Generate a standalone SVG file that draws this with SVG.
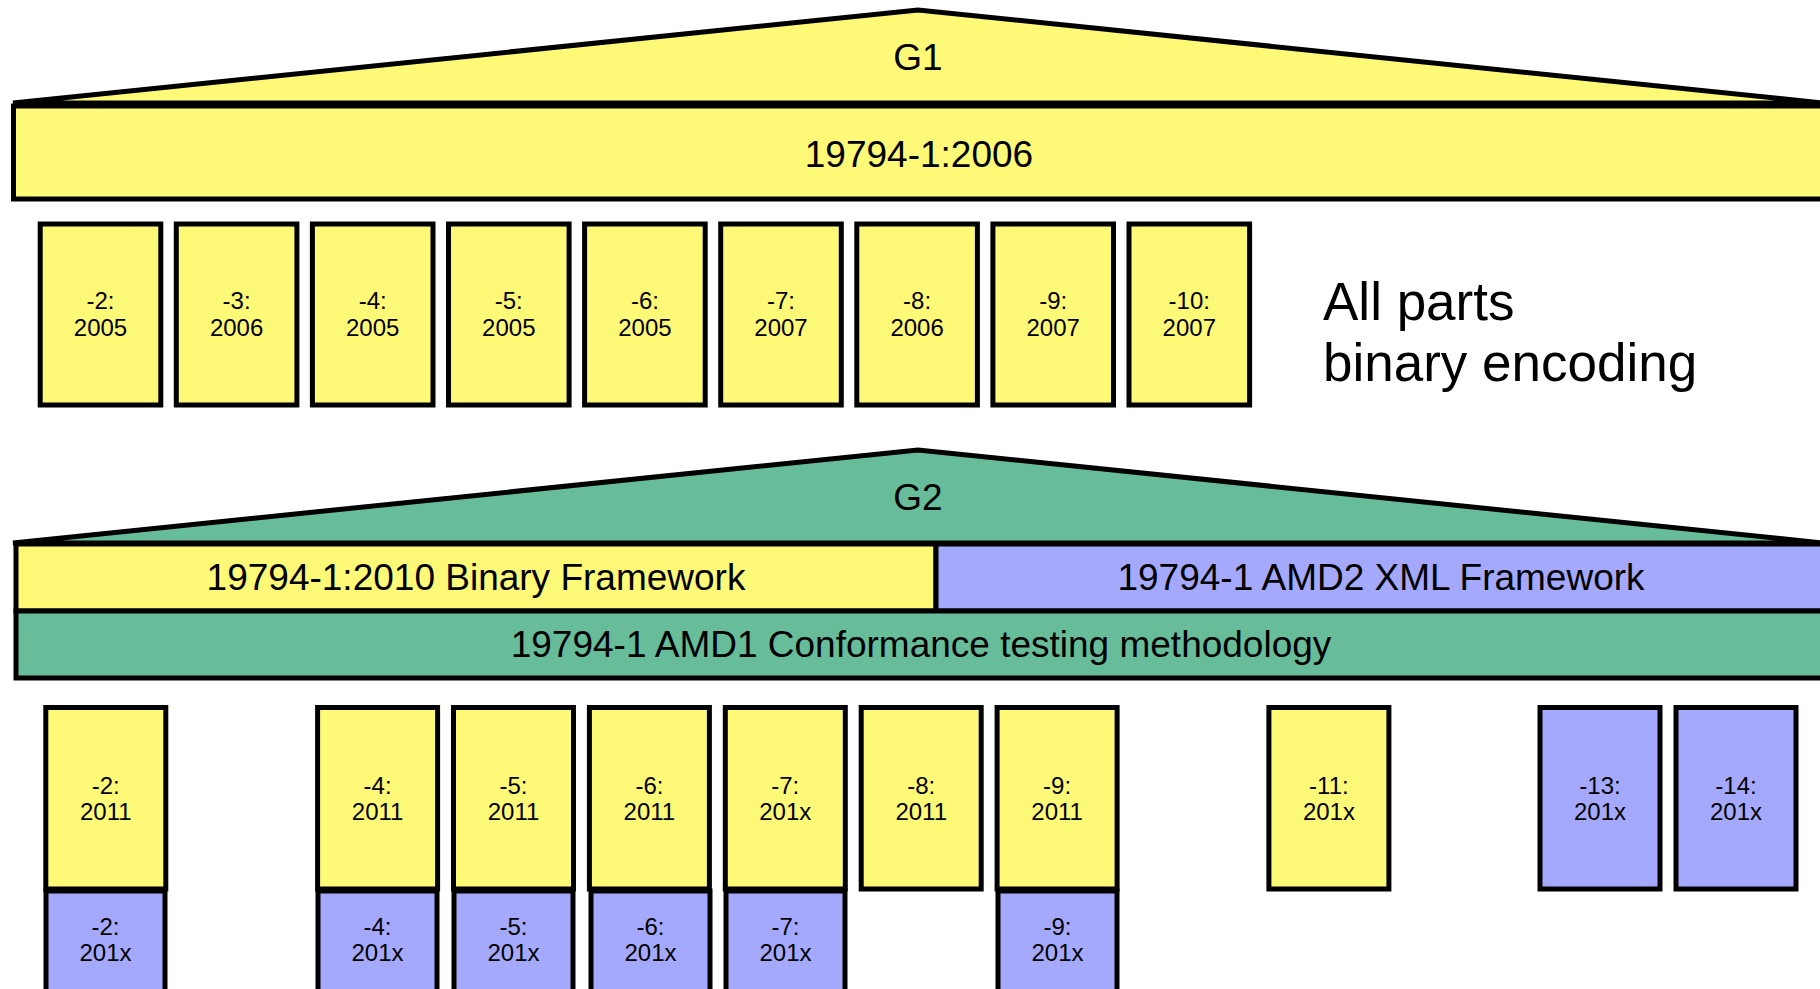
<svg xmlns="http://www.w3.org/2000/svg" width="1820" height="989" viewBox="0 0 1820 989">
<style>
  .y{fill:#FFF978;stroke:#000;stroke-width:5}
  .g{fill:#67BD99;stroke:#000;stroke-width:5}
  .b{fill:#A5A9FD;stroke:#000;stroke-width:5}
  text{font-family:"Liberation Sans",Arial,sans-serif;fill:#000;text-anchor:middle}
  .big{font-size:37px}
  .sm{font-size:24px}
  .note{font-size:53px;text-anchor:start}
</style>
<rect x="0" y="0" width="1820" height="989" fill="#fff"/>

<g id="g1-roof">
  <polygon class="y" points="13,103 918,10 1823,103"/>
  <text class="big" x="918" y="70">G1</text>
</g>
<g id="g1-base">
  <rect class="y" x="13.5" y="106" width="1830" height="93"/>
  <text class="big" x="919" y="167">19794-1:2006</text>
</g>

<g id="g1-parts">
  <g id="p1-2"><rect class="y" x="40.2" y="224" width="120.6" height="181"/><text class="sm" x="100.5" y="309">-2:</text><text class="sm" x="100.5" y="336">2005</text></g>
  <g id="p1-3"><rect class="y" x="176.3" y="224" width="120.6" height="181"/><text class="sm" x="236.6" y="309">-3:</text><text class="sm" x="236.6" y="336">2006</text></g>
  <g id="p1-4"><rect class="y" x="312.4" y="224" width="120.6" height="181"/><text class="sm" x="372.7" y="309">-4:</text><text class="sm" x="372.7" y="336">2005</text></g>
  <g id="p1-5"><rect class="y" x="448.5" y="224" width="120.6" height="181"/><text class="sm" x="508.8" y="309">-5:</text><text class="sm" x="508.8" y="336">2005</text></g>
  <g id="p1-6"><rect class="y" x="584.6" y="224" width="120.6" height="181"/><text class="sm" x="644.9" y="309">-6:</text><text class="sm" x="644.9" y="336">2005</text></g>
  <g id="p1-7"><rect class="y" x="720.7" y="224" width="120.6" height="181"/><text class="sm" x="781" y="309">-7:</text><text class="sm" x="781" y="336">2007</text></g>
  <g id="p1-8"><rect class="y" x="856.8" y="224" width="120.6" height="181"/><text class="sm" x="917.1" y="309">-8:</text><text class="sm" x="917.1" y="336">2006</text></g>
  <g id="p1-9"><rect class="y" x="992.9" y="224" width="120.6" height="181"/><text class="sm" x="1053.2" y="309">-9:</text><text class="sm" x="1053.2" y="336">2007</text></g>
  <g id="p1-10"><rect class="y" x="1129" y="224" width="120.6" height="181"/><text class="sm" x="1189.3" y="309">-10:</text><text class="sm" x="1189.3" y="336">2007</text></g>
</g>

<g id="note">
  <text class="note" x="1323" y="320">All parts</text>
  <text class="note" x="1323" y="381">binary encoding</text>
</g>

<g id="g2-roof">
  <polygon class="g" points="13,543 918,450 1823,543"/>
  <text class="big" x="918" y="510">G2</text>
</g>
<g id="g2-binary">
  <rect class="y" x="16" y="544" width="920" height="67"/>
  <text class="big" x="476" y="590">19794-1:2010 Binary Framework</text>
</g>
<g id="g2-xml">
  <rect class="b" x="936" y="544" width="900" height="67"/>
  <text class="big" x="1381" y="590">19794-1 AMD2 XML Framework</text>
</g>
<g id="g2-conf">
  <rect class="g" x="16" y="611" width="1820" height="67"/>
  <text class="big" x="921" y="657">19794-1 AMD1 Conformance testing methodology</text>
</g>

<g id="g2-parts-xml">
  <g id="x-2"><rect class="b" x="46" y="891" width="119" height="110"/><text class="sm" x="105.5" y="935">-2:</text><text class="sm" x="105.5" y="961">201x</text></g>
  <g id="x-4"><rect class="b" x="318" y="891" width="119" height="110"/><text class="sm" x="377.5" y="935">-4:</text><text class="sm" x="377.5" y="961">201x</text></g>
  <g id="x-5"><rect class="b" x="454" y="891" width="119" height="110"/><text class="sm" x="513.5" y="935">-5:</text><text class="sm" x="513.5" y="961">201x</text></g>
  <g id="x-6"><rect class="b" x="591" y="891" width="119" height="110"/><text class="sm" x="650.5" y="935">-6:</text><text class="sm" x="650.5" y="961">201x</text></g>
  <g id="x-7"><rect class="b" x="726" y="891" width="119" height="110"/><text class="sm" x="785.5" y="935">-7:</text><text class="sm" x="785.5" y="961">201x</text></g>
  <g id="x-9"><rect class="b" x="998" y="891" width="119" height="110"/><text class="sm" x="1057.5" y="935">-9:</text><text class="sm" x="1057.5" y="961">201x</text></g>
</g>

<g id="g2-parts">
  <g id="p2-2"><rect class="y" x="45.8" y="707.5" width="120" height="181.5"/><text class="sm" x="105.8" y="794">-2:</text><text class="sm" x="105.8" y="820">2011</text></g>
  <g id="p2-4"><rect class="y" x="317.6" y="707.5" width="120" height="181.5"/><text class="sm" x="377.6" y="794">-4:</text><text class="sm" x="377.6" y="820">2011</text></g>
  <g id="p2-5"><rect class="y" x="453.5" y="707.5" width="120" height="181.5"/><text class="sm" x="513.5" y="794">-5:</text><text class="sm" x="513.5" y="820">2011</text></g>
  <g id="p2-6"><rect class="y" x="589.4" y="707.5" width="120" height="181.5"/><text class="sm" x="649.4" y="794">-6:</text><text class="sm" x="649.4" y="820">2011</text></g>
  <g id="p2-7"><rect class="y" x="725.3" y="707.5" width="120" height="181.5"/><text class="sm" x="785.3" y="794">-7:</text><text class="sm" x="785.3" y="820">201x</text></g>
  <g id="p2-8"><rect class="y" x="861.2" y="707.5" width="120" height="181.5"/><text class="sm" x="921.2" y="794">-8:</text><text class="sm" x="921.2" y="820">2011</text></g>
  <g id="p2-9"><rect class="y" x="997.1" y="707.5" width="120" height="181.5"/><text class="sm" x="1057.1" y="794">-9:</text><text class="sm" x="1057.1" y="820">2011</text></g>
  <g id="p2-11"><rect class="y" x="1268.9" y="707.5" width="120" height="181.5"/><text class="sm" x="1328.9" y="794">-11:</text><text class="sm" x="1328.9" y="820">201x</text></g>
  <g id="p2-13"><rect class="b" x="1540" y="707.5" width="120" height="181.5"/><text class="sm" x="1600" y="794">-13:</text><text class="sm" x="1600" y="820">201x</text></g>
  <g id="p2-14"><rect class="b" x="1676" y="707.5" width="120" height="181.5"/><text class="sm" x="1736" y="794">-14:</text><text class="sm" x="1736" y="820">201x</text></g>
</g>

<g id="connectors"/>
</svg>
